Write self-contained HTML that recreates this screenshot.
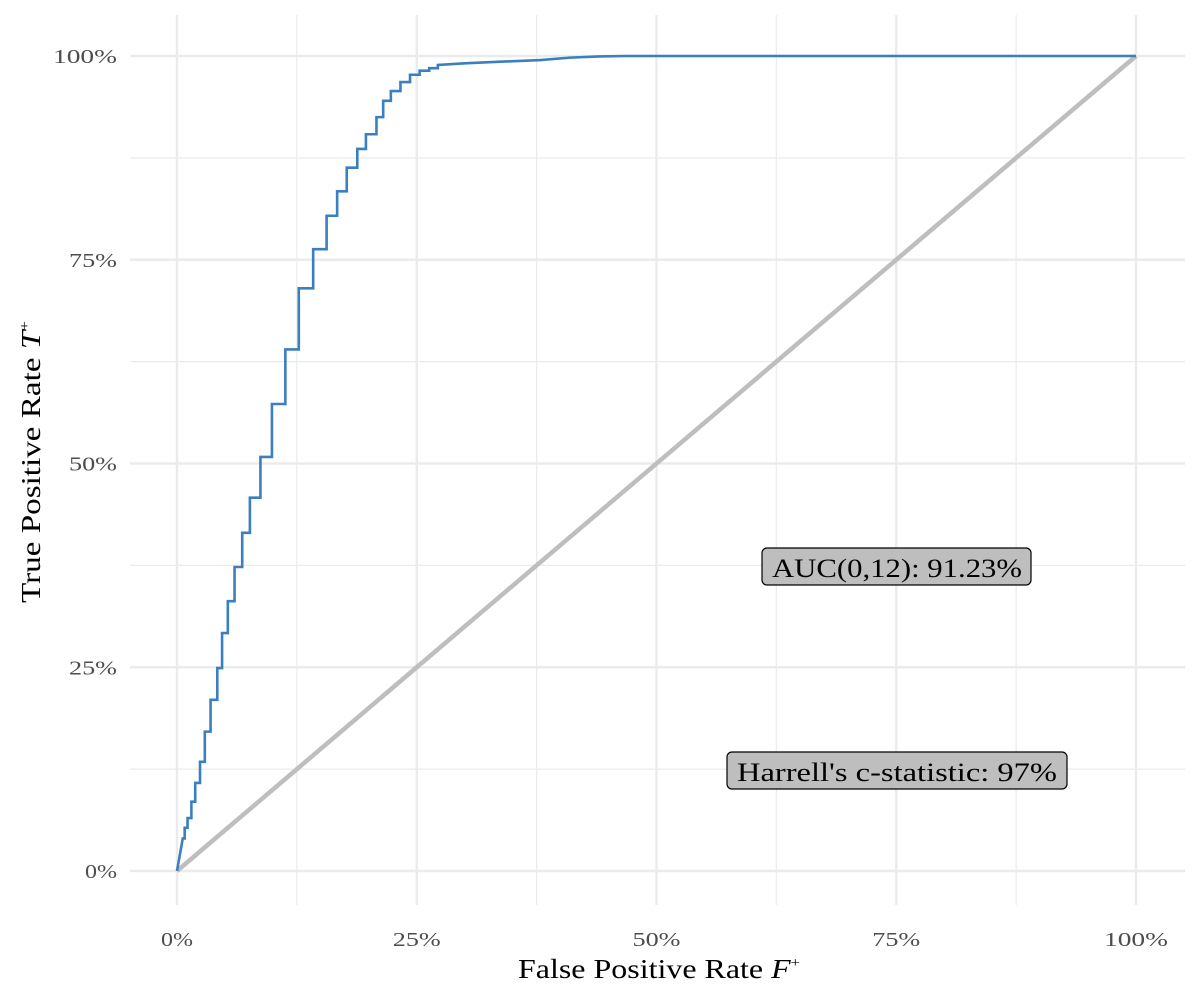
<!DOCTYPE html>
<html><head><meta charset="utf-8"><style>
body{margin:0;background:#fff}
svg text{font-family:"Liberation Serif",serif}
</style></head><body>
<svg id="chart" width="1200" height="1000" xmlns="http://www.w3.org/2000/svg">
<g id="grid"></g>
<line x1="177" y1="871" x2="1136" y2="56" stroke="#bebebe" stroke-width="4.5"/>
<path id="roc" fill="none" stroke="#3a7fbf" stroke-width="2.6"/>
<g id="ticks"></g>
<text x="518" y="978" font-size="27" textLength="282" lengthAdjust="spacingAndGlyphs">False Positive Rate <tspan font-style="italic">F</tspan><tspan font-size="14" dy="-11">+</tspan></text>
<text transform="translate(40,603) rotate(-90)" font-size="27" textLength="282" lengthAdjust="spacingAndGlyphs">True Positive Rate <tspan font-style="italic">T</tspan><tspan font-size="14" dy="-11">+</tspan></text>
<g>
<rect x="762" y="548" width="269" height="37" rx="5" fill="#bebebe" stroke="#000" stroke-width="1.2"/>
<text x="772" y="577" font-size="26" textLength="250" lengthAdjust="spacingAndGlyphs">AUC(0,12): 91.23%</text></g>
<g>
<rect x="727" y="752" width="340" height="37" rx="5" fill="#bebebe" stroke="#000" stroke-width="1.2"/>
<text x="737" y="781" font-size="26" textLength="320" lengthAdjust="spacingAndGlyphs">Harrell's c-statistic: 97%</text></g>
</svg>
<script>
const stepFpr=[0.8,1.1,1.5,1.9,2.4,2.9,3.5,4.2,4.7,5.3,6.0,6.8,7.6,8.7,9.9,11.3,12.7,14.2,15.6,16.7,17.7,18.8,19.7,20.8,21.5,22.3,23.3,24.3,25.3,26.3,27.2];
const stepTpr=[5.3,6.5,8.5,10.8,13.4,17.1,21.0,24.9,29.2,33.1,37.3,41.5,45.8,50.8,57.3,64.0,71.5,76.3,80.4,83.4,86.3,88.6,90.4,92.5,94.5,95.7,96.8,97.7,98.2,98.5,98.9];
const tailFpr=[30.0,33.7,37.9,41.0,44.0,46.7,100];
const tailTpr=[99.1,99.3,99.5,99.8,99.95,100,100];
const ticks=[0,25,50,75,100];
const minor=[12.5,37.5,62.5,87.5];
const X=v=>177+v/100*959, Y=v=>871-v/100*815;
const NS="http://www.w3.org/2000/svg";
const grid=document.getElementById('grid'), tg=document.getElementById('ticks');
function ln(x1,y1,x2,y2,w){const l=document.createElementNS(NS,'line');
l.setAttribute('x1',x1);l.setAttribute('y1',y1);l.setAttribute('x2',x2);l.setAttribute('y2',y2);
l.setAttribute('stroke','#ebebeb');l.setAttribute('stroke-width',w);


grid.appendChild(l);}
minor.forEach(v=>{ln(X(v),15,X(v),905,1.2);ln(130,Y(v),1185,Y(v),1.2);});
ticks.forEach(v=>{ln(X(v),15,X(v),905,2.4);ln(130,Y(v),1185,Y(v),2.4);
const s=v+'%', w=s.length*16;
const a=document.createElementNS(NS,'text');a.textContent=s;
a.setAttribute('x',X(v)-w/2);a.setAttribute('y',946);a.setAttribute('font-size','20');a.setAttribute('fill','#4d4d4d');
a.setAttribute('textLength',w);a.setAttribute('lengthAdjust','spacingAndGlyphs');


tg.appendChild(a);
const b=document.createElementNS(NS,'text');b.textContent=s;
b.setAttribute('x',117-w);b.setAttribute('y',Y(v)+7);b.setAttribute('font-size','20');b.setAttribute('fill','#4d4d4d');
b.setAttribute('textLength',w);b.setAttribute('lengthAdjust','spacingAndGlyphs');


tg.appendChild(b);});
let d='M'+X(0)+','+Y(0)+' L'+X(0.6)+','+Y(4.0);
stepFpr.forEach((f,i)=>{d+=' H'+X(f)+' V'+Y(stepTpr[i]);});
tailFpr.forEach((f,i)=>{d+=' L'+X(f)+','+Y(tailTpr[i]);});
document.getElementById('roc').setAttribute('d',d);
</script>
</body></html>
